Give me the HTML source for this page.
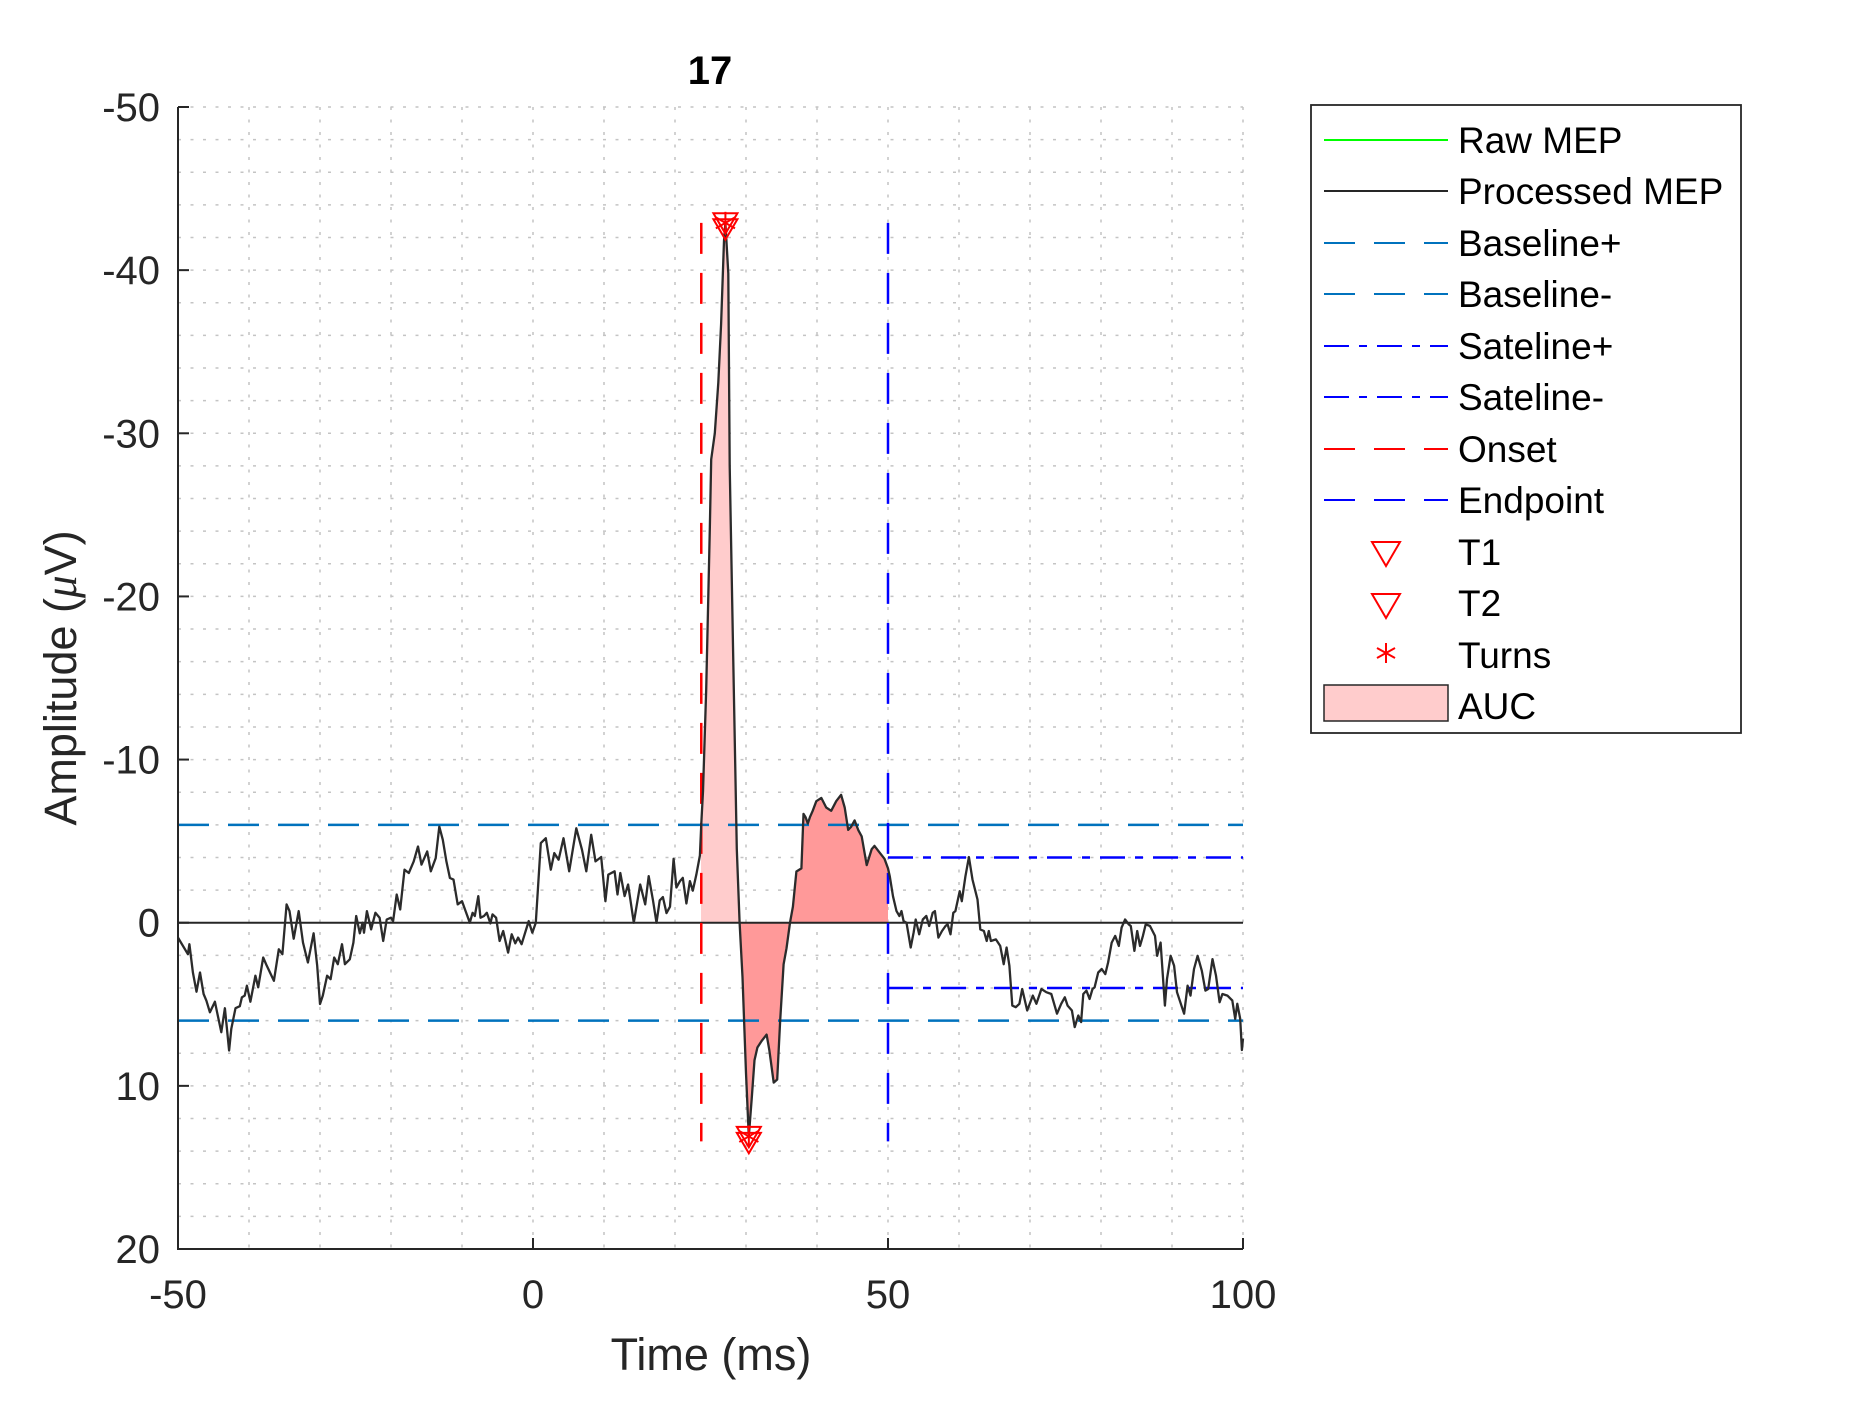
<!DOCTYPE html>
<html><head><meta charset="utf-8"><style>
html,body{margin:0;padding:0;background:#fff;}
svg{display:block;font-family:"Liberation Sans",Arial,sans-serif;}
</style></head><body>
<svg id="chart" width="1875" height="1406" viewBox="0 0 1875 1406" xmlns="http://www.w3.org/2000/svg">
<rect x="0" y="0" width="1875" height="1406" fill="#fff"/>
<g id="grid"></g>
<g id="fills"></g>
<g id="lines"></g>
<g id="axes"></g>
<g id="legend"></g>
</svg>
<script>
const timeMs=[-50,-48.6,-48.4,-47.9,-47.4,-46.9,-46.4,-46.0,-45.5,-44.8,-44.5,-43.9,-43.4,-42.8,-42.5,-41.9,-41.3,-41.0,-40.6,-40.3,-39.8,-39.1,-38.7,-38.0,-37.5,-36.5,-35.8,-35.3,-34.7,-34.3,-33.7,-33.0,-32.4,-31.7,-30.9,-30.4,-30.0,-29.6,-29.0,-28.5,-28.0,-27.5,-26.9,-26.5,-25.8,-25.3,-24.9,-24.4,-24.0,-23.8,-23.4,-22.8,-22.2,-21.6,-21.1,-20.6,-20.0,-19.7,-19.2,-18.7,-18.1,-17.5,-16.8,-16.2,-15.7,-14.9,-14.4,-13.7,-13.2,-12.7,-12.2,-11.7,-11.2,-10.6,-10.0,-9.5,-8.9,-8.5,-8.2,-7.7,-7.4,-6.9,-6.5,-6.0,-5.7,-5.2,-4.7,-4.2,-3.5,-3.0,-2.5,-2.1,-1.6,-0.6,-0.1,0.4,1.1,1.8,2.5,3.0,3.6,4.3,5.1,6.1,6.9,7.5,8.2,8.8,9.6,10.2,10.6,11.5,11.9,12.3,12.9,13.4,14.2,15.1,15.8,16.3,16.9,17.4,17.85,18.3,18.8,19.3,19.8,20.2,20.7,21.1,21.6,22.1,22.5,23.0,23.5,23.7,23.95,24.4,24.9,25.1,25.6,26.1,26.5,26.9,27.1,27.5,27.7,28.2,28.7,29.1,29.5,30.0,30.4,30.8,31.2,31.6,32.2,32.9,33.3,33.9,34.4,34.8,35.3,35.7,36.2,36.6,37.1,37.8,38.1,38.4,38.7,39.0,39.4,39.9,40.6,41.3,42.0,42.7,43.4,43.9,44.4,44.8,45.3,45.8,46.3,47.0,47.7,48.1,48.8,49.5,50.0,50.25,50.7,51.2,51.6,51.9,52.2,52.6,53.2,53.6,53.9,54.4,54.9,55.4,55.8,56.3,56.6,57.1,57.6,58.1,58.4,58.8,59.2,59.5,60.1,60.4,60.9,61.4,61.9,62.6,63.0,63.5,63.9,64.2,64.5,65.2,65.8,66.3,66.7,67.1,67.5,68.0,68.5,68.9,69.6,70.4,70.9,71.6,72.3,73.0,73.8,74.4,74.9,75.3,75.9,76.3,76.8,77.2,77.5,77.95,78.4,78.8,79.1,79.6,80.1,80.6,81.0,81.5,82.0,82.5,82.9,83.4,83.9,84.2,84.7,85.1,85.5,85.9,86.3,86.9,87.6,87.9,88.4,89.0,89.3,89.8,90.3,90.7,91.7,92.2,92.6,93.1,93.6,94.2,94.7,95.1,95.7,96.2,96.7,97.1,97.8,98.5,98.9,99.2,99.6,99.85,100];
const ampUv=[0.91,1.93,1.32,3.05,4.23,3.05,4.37,4.78,5.49,4.84,5.49,6.71,5.24,7.83,6.5,5.24,5.12,4.57,4.47,3.86,4.84,3.25,3.96,2.13,2.64,3.56,1.63,1.93,-1.12,-0.71,0.98,-0.71,1.22,2.44,0.65,2.64,4.98,4.47,3.25,3.46,2.13,2.54,1.32,2.54,2.24,1.22,-0.41,0.65,0,0.61,-0.71,0.41,-0.61,-0.31,1.12,-0.2,-0.31,-0.1,-1.73,-0.81,-3.25,-3.05,-3.76,-4.67,-3.56,-4.37,-3.15,-3.96,-5.89,-5.08,-3.76,-2.74,-2.64,-1.12,-1.32,-0.71,0,-0.61,-0.41,-1.63,-0.31,-0.41,-0.61,0.04,-0.51,-0.31,1.12,0.51,1.83,0.71,1.26,0.91,1.32,-0.1,0.61,0,-4.88,-5.18,-3.25,-4.27,-3.86,-5.18,-3.15,-5.79,-4.47,-3.15,-5.39,-3.76,-4.03,-1.32,-2.95,-3.15,-1.73,-3.05,-1.63,-2.34,0,-2.34,-1.12,-2.85,-1.37,0,-1.37,-1.57,-0.59,-0.98,-3.92,-2.16,-2.55,-2.75,-1.18,-2.55,-1.96,-2.94,-4.12,-6.08,-8.04,-14.3,-24.1,-28.4,-30.0,-33.1,-36.7,-41.8,-42.9,-39.8,-28.0,-16.3,-4.51,0,3.33,9.22,13.1,10.8,8.43,7.65,7.25,6.86,7.84,9.8,9.61,6.08,2.55,1.57,0,-0.98,-3.14,-3.33,-6.67,-6.47,-6.08,-6.47,-6.86,-7.45,-7.65,-7.06,-6.86,-7.45,-7.84,-7.06,-5.69,-5.88,-6.27,-5.69,-5.29,-3.53,-4.51,-4.71,-4.31,-3.92,-3.33,-2.84,-1.62,-0.71,-0.41,-0.71,-0.1,0,1.52,0.61,-0.2,0.71,-0.2,-0.41,0.2,-0.61,-0.71,0.91,0.51,0.2,0.1,0.71,-0.61,-0.71,-1.93,-1.32,-2.84,-4.02,-2.64,-1.42,0.41,0.51,1.12,0.51,1.12,1.02,1.42,2.54,1.52,2.64,5.08,5.18,4.97,4.06,5.38,4.47,4.97,4.06,4.26,4.37,5.58,4.97,4.57,5.08,5.38,6.4,5.69,6.09,4.37,4.16,4.67,4.06,3.96,3.05,2.84,3.15,2.44,1.22,0.81,1.42,0.3,-0.2,0.1,0.2,1.73,0.51,1.42,0.81,0.1,0.2,0.81,2.03,1.22,5.08,3.45,2.03,2.64,4.26,5.58,3.86,4.47,2.84,2.03,2.94,4.16,4.06,2.23,3.25,4.87,4.37,4.47,4.77,5.89,4.97,5.89,7.8,7.1];
const xTicks=[-50,0,50,100];
const yTicks=[-50,-40,-30,-20,-10,0,10,20];
const baselineLevels=[6,-6];
const satelineLevels=[4,-4];
const onsetMs=[23.7];
const endpointMs=[50];
const markerSpan=[-42.9,13.4];
const t1Point=[27.1,-42.9];
const t2Point=[30.4,13.1];
const firstLobeEnd=[29.1];

const NS="http://www.w3.org/2000/svg";
const L=178,R=1243,T=107,B=1249,XMIN=-50,XMAX=100,YMIN=-50,YMAX=20;
const X=t=>L+(t-XMIN)/(XMAX-XMIN)*(R-L);
const Y=v=>T+(v-YMIN)/(YMAX-YMIN)*(B-T);
function mk(tag,attrs,parent){const e=document.createElementNS(NS,tag);for(const k in attrs)e.setAttribute(k,attrs[k]);parent.appendChild(e);return e;}
const grid=document.getElementById('grid'),fills=document.getElementById('fills'),lines=document.getElementById('lines'),axes=document.getElementById('axes'),legend=document.getElementById('legend');

// grid
for(let t=-40;t<=100;t+=10){const g=mk('line',{x1:X(t),x2:X(t),y1:T,y2:B,stroke:'#c4c4c4','stroke-width':1.5,'stroke-dasharray':'3,9.5'},grid);

}
for(let v=-50;v<20;v+=2){const g=mk('line',{x1:L,x2:R,y1:Y(v),y2:Y(v),stroke:'#c4c4c4','stroke-width':1.5,'stroke-dasharray':'3,9.5'},grid);

}

function interp(t){for(let i=1;i<timeMs.length;i++){if(timeMs[i]>=t){const a=timeMs[i-1],b=timeMs[i];const f=(t-a)/(b-a);return ampUv[i-1]+f*(ampUv[i]-ampUv[i-1]);}}return ampUv[ampUv.length-1];}
function fillPath(t0,t1){let d='M'+X(t0)+','+Y(0)+' L'+X(t0)+','+Y(interp(t0));
for(let i=0;i<timeMs.length;i++){if(timeMs[i]>t0&&timeMs[i]<t1)d+=' L'+X(timeMs[i])+','+Y(ampUv[i]);}
d+=' L'+X(t1)+','+Y(interp(t1))+' L'+X(t1)+','+Y(0)+' Z';return d;}
const aucAll=mk('path',{d:fillPath(onsetMs[0],endpointMs[0]),fill:'#ff9999',stroke:'none'},fills);


const auc1=mk('path',{d:fillPath(onsetMs[0],firstLobeEnd[0]),fill:'#ffcccc',stroke:'none'},fills);



// zero line
const z=mk('line',{x1:X(-50),x2:X(100),y1:Y(0),y2:Y(0),stroke:'#262626','stroke-width':2},lines);


baselineLevels.forEach(v=>{const b=mk('line',{x1:X(-50),x2:X(100),y1:Y(v),y2:Y(v),stroke:'#0072bd','stroke-width':2.5,'stroke-dasharray':'31,19'},lines);

});
satelineLevels.forEach(v=>{const s=mk('line',{x1:X(endpointMs[0]),x2:X(100),y1:Y(v),y2:Y(v),stroke:'#0000ff','stroke-width':2.5,'stroke-dasharray':'25,10,8,10'},lines);

});
const on=mk('line',{x1:X(onsetMs[0]),x2:X(onsetMs[0]),y1:Y(markerSpan[0]),y2:Y(markerSpan[1]),stroke:'#ff0000','stroke-width':2.5,'stroke-dasharray':'31,19'},lines);


const ep=mk('line',{x1:X(endpointMs[0]),x2:X(endpointMs[0]),y1:Y(markerSpan[0]),y2:Y(markerSpan[1]),stroke:'#0000ff','stroke-width':2.5,'stroke-dasharray':'31,19'},lines);



let d='';timeMs.forEach((t,i)=>{d+=(i?' L':'M')+X(t).toFixed(1)+','+Y(ampUv[i]).toFixed(1);});
const cur=mk('path',{d:d,fill:'none',stroke:'#2b2b2b','stroke-width':2.3,'stroke-linejoin':'round'},lines);



function tri(cx,cy,s,parent){return mk('path',{d:`M${cx-s},${cy-s*0.8} L${cx+s},${cy-s*0.8} L${cx},${cy+s*0.9} Z`,fill:'none',stroke:'#ff0000','stroke-width':2},parent);}
function star(cx,cy,s,parent){const g=mk('g',{stroke:'#ff0000','stroke-width':2},parent);
mk('line',{x1:cx,x2:cx,y1:cy-s,y2:cy+s},g);
mk('line',{x1:cx-s*0.87,x2:cx+s*0.87,y1:cy-s*0.5,y2:cy+s*0.5},g);
mk('line',{x1:cx-s*0.87,x2:cx+s*0.87,y1:cy+s*0.5,y2:cy-s*0.5},g);return g;}
[[t1Point,'t1-marker'],[t2Point,'t2-marker']].forEach(([p,n])=>{
const m=tri(X(p[0]),Y(p[1]),12,lines);


const m2=tri(X(p[0]),Y(p[1])+6,12,lines);


const s=star(X(p[0]),Y(p[1]),11,lines);

});

// axes
const ax=mk('path',{d:`M${L},${T} L${L},${B} L${R},${B}`,fill:'none',stroke:'#262626','stroke-width':2},axes);


xTicks.forEach(t=>{mk('line',{x1:X(t),x2:X(t),y1:B,y2:B-11,stroke:'#262626','stroke-width':2},axes);
const tx=mk('text',{x:X(t),y:1308,'font-size':40,'text-anchor':'middle',fill:'#262626'},axes);tx.textContent=t;

});
yTicks.forEach(v=>{mk('line',{x1:L,x2:L+11,y1:Y(v),y2:Y(v),stroke:'#262626','stroke-width':2},axes);
const tx=mk('text',{x:160,y:Y(v)+14,'font-size':40,'text-anchor':'end',fill:'#262626'},axes);tx.textContent=v;

});
</script>
<svg style="position:absolute;left:0;top:0" width="1875" height="1406" viewBox="0 0 1875 1406" xmlns="http://www.w3.org/2000/svg" font-family="Liberation Sans, Arial, sans-serif">
<text x="710" y="84" font-size="40" font-weight="bold" text-anchor="middle" fill="#000">17</text>
<text x="711" y="1370" font-size="45" text-anchor="middle" fill="#262626">Time (ms)</text>
<text transform="translate(76,678) rotate(-90)" font-size="45" text-anchor="middle" fill="#262626">Amplitude (<tspan font-family="Liberation Serif, serif" font-style="italic">μ</tspan>V)</text>
<g>
<rect x="1311" y="105" width="430" height="628" fill="#fff" stroke="#262626" stroke-width="1.8"/>
<g font-size="37" fill="#000">
<line x1="1324" x2="1448" y1="140" y2="140" stroke="#00ff00" stroke-width="2"/><text x="1458" y="153">Raw MEP</text>
<line x1="1324" x2="1448" y1="191" y2="191" stroke="#262626" stroke-width="2"/><text x="1458" y="204">Processed MEP</text>
<line x1="1324" x2="1448" y1="243" y2="243" stroke="#0072bd" stroke-width="2" stroke-dasharray="31,19"/><text x="1458" y="256">Baseline+</text>
<line x1="1324" x2="1448" y1="294" y2="294" stroke="#0072bd" stroke-width="2" stroke-dasharray="31,19"/><text x="1458" y="307">Baseline-</text>
<line x1="1324" x2="1448" y1="346" y2="346" stroke="#0000ff" stroke-width="2" stroke-dasharray="25,10,8,10"/><text x="1458" y="359">Sateline+</text>
<line x1="1324" x2="1448" y1="397" y2="397" stroke="#0000ff" stroke-width="2" stroke-dasharray="25,10,8,10"/><text x="1458" y="410">Sateline-</text>
<line x1="1324" x2="1448" y1="449" y2="449" stroke="#ff0000" stroke-width="2" stroke-dasharray="31,19"/><text x="1458" y="462">Onset</text>
<line x1="1324" x2="1448" y1="500" y2="500" stroke="#0000ff" stroke-width="2" stroke-dasharray="31,19"/><text x="1458" y="513">Endpoint</text>
<path d="M1372,542 L1400,542 L1386,566 Z" fill="none" stroke="#ff0000" stroke-width="2"/><text x="1458" y="565">T1</text>
<path d="M1372,594 L1400,594 L1386,618 Z" fill="none" stroke="#ff0000" stroke-width="2"/><text x="1458" y="616">T2</text>
<g stroke="#ff0000" stroke-width="2"><line x1="1386" x2="1386" y1="643" y2="663"/><line x1="1377" x2="1395" y1="648" y2="658"/><line x1="1377" x2="1395" y1="658" y2="648"/></g><text x="1458" y="668">Turns</text>
<rect x="1324" y="685" width="124" height="36" fill="#ffcccc" stroke="#262626" stroke-width="1.5"/><text x="1458" y="719">AUC</text>
</g></g>
</svg>
</body></html>
